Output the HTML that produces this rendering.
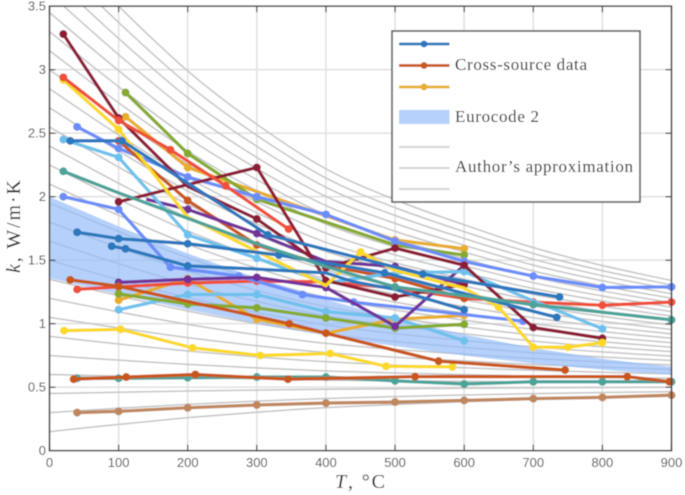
<!DOCTYPE html>
<html lang="en">
<head>
<meta charset="utf-8">
<title>Thermal conductivity chart</title>
<style>
html,body{margin:0;padding:0;background:#fff;}
body{width:685px;height:495px;overflow:hidden;}
svg{display:block;}
.tick{font-family:"Liberation Sans",sans-serif;font-size:13px;fill:#444;}
.serif{font-family:"Liberation Serif",serif;fill:#111;}
</style>
</head>
<body>
<svg id="chart" xmlns="http://www.w3.org/2000/svg" width="685" height="495" viewBox="0 0 685 495">
  <defs>
    <clipPath id="plot-clip"><rect x="49.5" y="6" width="622" height="444.7"></rect></clipPath>
    <filter id="soft" x="0" y="0" width="100%" height="100%"><feGaussianBlur stdDeviation="0.5"></feGaussianBlur></filter>
  </defs>
  <g id="root" filter="url(#soft)">
    <rect x="0" y="0" width="685" height="495" fill="#fff"></rect>
    <g id="grid"></g>
    <g id="gray" clip-path="url(#plot-clip)"></g>
    <g id="band" clip-path="url(#plot-clip)"></g>
    <g id="series"></g>
    <g id="axes"></g>
    <text class="serif" x="0" y="0" transform="translate(20,273) rotate(-90)" font-size="20" textLength="93" lengthAdjust="spacing"><tspan font-style="italic">k</tspan>, W/m·K</text>
    <text class="serif" x="335" y="488" font-size="20" textLength="50" lengthAdjust="spacing"><tspan font-style="italic">T</tspan>, °C</text>
    <g>
      <rect x="392" y="31" width="248" height="171" fill="#fff" stroke="#555" stroke-width="1.6"></rect>
      <g>
        <line x1="399" x2="449.5" y1="44" y2="44" stroke="#2b78bd" stroke-width="2.8"></line><circle cx="424" cy="44" r="3.4" fill="#2b78bd"></circle>
      </g>
      <g>
        <line x1="399" x2="449.5" y1="65.5" y2="65.5" stroke="#c9561a" stroke-width="2.8"></line><circle cx="424" cy="65.5" r="3.4" fill="#c9561a"></circle>
      </g>
      <g>
        <line x1="399" x2="449.5" y1="87" y2="87" stroke="#e8ad2a" stroke-width="2.8"></line><circle cx="424" cy="87" r="3.4" fill="#e8ad2a"></circle>
      </g>
      <text class="serif" x="455" y="70" font-size="17" textLength="132" lengthAdjust="spacing">Cross-source data</text>
      <rect x="399" y="110" width="50.5" height="14" fill="#b5d1fc"></rect>
      <text class="serif" x="455" y="122" font-size="17" textLength="84" lengthAdjust="spacing">Eurocode 2</text>
      <line x1="399" x2="449.5" y1="147" y2="147" stroke="#c8c8c8" stroke-width="1.4"></line>
      <line x1="399" x2="449.5" y1="168" y2="168" stroke="#c8c8c8" stroke-width="1.4"></line>
      <line x1="399" x2="449.5" y1="189" y2="189" stroke="#c8c8c8" stroke-width="1.4"></line>
      <text class="serif" x="455" y="172" font-size="17" textLength="178" lengthAdjust="spacing">Author’s approximation</text>
    </g>
  </g>
</svg>
<script>
// ---- tick labels ----
const xTicks = [0,100,200,300,400,500,600,700,800,900];
const yTicks = [0,0.5,1,1.5,2,2.5,3,3.5];
const yTickLabels = ['0','0.5','1','1.5','2','2.5','3','3.5'];

// ---- Eurocode 2 band ----
const bandTemps = [0,100,200,300,400,500,600,700,800,900];
const bandUpper = [2,1.766,1.553,1.361,1.191,1.042,0.915,0.809,0.724,0.661];
const bandLower = [1.36,1.23,1.111,1.003,0.907,0.823,0.749,0.687,0.637,0.598];

// ---- Author's approximation curves ----
const grayTemps = [0,100,200,300,400,500,600,700,800,900];
const grayCurves = [
 [0.15,0.207,0.26,0.303,0.339,0.364,0.385,0.403,0.418,0.43],
 [0.30,0.334,0.365,0.39,0.411,0.426,0.439,0.449,0.458,0.465],
 [0.45,0.46,0.47,0.477,0.484,0.488,0.492,0.495,0.498,0.50],
 [0.60,0.587,0.575,0.565,0.556,0.55,0.546,0.541,0.538,0.535],
 [0.75,0.713,0.68,0.652,0.628,0.612,0.599,0.587,0.578,0.57],
 [0.90,0.84,0.785,0.739,0.701,0.674,0.653,0.633,0.618,0.605],
 [1.05,0.967,0.89,0.826,0.773,0.736,0.707,0.679,0.658,0.64],
 [1.20,1.093,0.995,0.913,0.845,0.798,0.76,0.725,0.698,0.675],
 [1.35,1.22,1.10,1.001,0.918,0.86,0.814,0.771,0.738,0.71],
 [1.50,1.347,1.205,1.088,0.99,0.922,0.868,0.817,0.778,0.745],
 [1.65,1.473,1.31,1.175,1.062,0.984,0.921,0.863,0.818,0.78],
 [1.80,1.6,1.415,1.262,1.134,1.046,0.975,0.909,0.858,0.815],
 [1.95,1.726,1.52,1.349,1.207,1.108,1.028,0.955,0.898,0.85],
 [2.10,1.853,1.625,1.437,1.279,1.17,1.082,1.001,0.938,0.885],
 [2.25,1.98,1.73,1.524,1.351,1.232,1.135,1.047,0.978,0.92],
 [2.40,2.106,1.835,1.611,1.424,1.294,1.189,1.093,1.018,0.955],
 [2.55,2.233,1.94,1.698,1.496,1.356,1.243,1.139,1.058,0.99],
 [2.70,2.36,2.045,1.785,1.568,1.418,1.296,1.185,1.098,1.025],
 [2.85,2.486,2.15,1.873,1.64,1.48,1.35,1.231,1.138,1.06],
 [3.00,2.613,2.255,1.96,1.713,1.542,1.403,1.277,1.178,1.095],
 [3.15,2.739,2.36,2.047,1.785,1.604,1.457,1.323,1.218,1.13],
 [3.30,2.866,2.465,2.134,1.857,1.666,1.511,1.369,1.258,1.165],
 [3.45,2.993,2.57,2.221,1.93,1.728,1.564,1.415,1.298,1.20],
 [3.60,3.119,2.675,2.309,2.002,1.79,1.618,1.461,1.338,1.235],
 [3.75,3.246,2.78,2.396,2.074,1.852,1.671,1.507,1.378,1.27],
 [3.90,3.372,2.885,2.483,2.147,1.914,1.725,1.553,1.418,1.305],
 [4.05,3.5,2.99,2.57,2.219,1.976,1.779,1.599,1.458,1.34]
];

// ---- measured series: temperatures and conductivities ----
const goldHighT = [110,200,500,600];
const goldHighK = [2.63,2.23,1.66,1.59];
const greenHighT = [110,200,300,500,600];
const greenHighK = [2.82,2.34,1.98,1.62,1.54];
const periHighT = [40,100,200,300,400,500,600,700,800,900];
const periHighK = [2.55,2.38,2.155,2.0,1.86,1.65,1.49,1.375,1.285,1.29];
const goldLowT = [100,200,300,400,500,600];
const goldLowK = [1.185,1.355,1.035,0.925,1.035,1.065];
const redLowT = [40,100,200,300,400,500,600,700,800,900];
const redLowK = [1.27,1.29,1.32,1.335,1.33,1.28,1.2,1.17,1.145,1.17];
const yellowLowT = [21,103,207,305,406,487,583];
const yellowLowK = [0.945,0.955,0.81,0.75,0.765,0.665,0.66];
const lightLowT = [100,200,300,400,500,600];
const lightLowK = [1.11,1.23,1.23,1.095,1.045,0.865];
const greenLowT = [100,200,300,400,500,600];
const greenLowK = [1.235,1.155,1.125,1.045,0.965,0.995];
const periLowT = [20,100,175,274,366,440,685];
const periLowK = [2.0,1.9,1.445,1.375,1.23,1.17,1.02];
const purpleLowT = [100,200,300,400,500,600];
const purpleLowK = [1.325,1.35,1.365,1.285,0.98,1.46];
const orangeLowT = [30,100,347,400,563,746];
const orangeLowK = [1.345,1.295,1.0,0.925,0.705,0.635];
const orangeHighT = [100,200,300,400,500,600];
const orangeHighK = [2.44,1.97,1.62,1.46,1.355,1.2];
const purpleHighT = [140,200,300,400,500,600];
const purpleHighK = [1.98,1.9,1.71,1.49,1.45,1.31];
const lightHighT = [20,100,200,300,400,500,600,700,800];
const lightHighK = [2.45,2.31,1.7,1.515,1.32,1.4,1.41,1.18,0.96];
const redHighT = [20,100,175,255,346];
const redHighK = [2.94,2.6,2.37,2.085,1.745];
const darkRedAT = [20,100,200,300,400,500,600,700,800];
const darkRedAK = [3.28,2.62,2.08,1.825,1.44,1.595,1.46,0.97,0.885];
const darkRedBT = [100,300,400,500,600];
const darkRedBK = [1.96,2.23,1.34,1.21,1.31];
const yellowHighT = [20,100,200,300,400,450,500,600,650,700,750,800];
const yellowHighK = [2.92,2.53,1.84,1.57,1.3,1.565,1.42,1.28,1.13,0.815,0.815,0.85];
const blueAT = [30,105,316,540,738];
const blueAK = [2.44,2.44,1.7,1.39,1.21];
const blueBT = [40,100,200,332,485,734];
const blueBK = [1.72,1.67,1.63,1.54,1.4,1.05];
const blueCT = [90,110,200,300,400,440,500,600];
const blueCK = [1.61,1.59,1.455,1.43,1.4,1.33,1.27,1.11];
const tealHighT = [20,100,200,300,400,500,600,700,800,900];
const tealHighK = [2.2,2.03,1.83,1.63,1.45,1.29,1.22,1.15,1.09,1.03];
const tealLowT = [40,100,200,300,400,500,600,700,800,900];
const tealLowK = [0.57,0.57,0.575,0.58,0.58,0.55,0.525,0.543,0.543,0.543];
const orangeFlatT = [35,111,211,345,529,836,897];
const orangeFlatK = [0.563,0.58,0.6,0.563,0.583,0.583,0.543];
const tanT = [40,100,200,300,400,500,600,700,800,900];
const tanK = [0.3,0.31,0.338,0.36,0.375,0.383,0.396,0.41,0.42,0.437];

// ---- drawing order, colours; hide = vertex indices drawn without a marker ----
const seriesList = [
 {name:'gold-high',t:goldHighT,k:goldHighK,c:'#e8ad2a',hide:[]},
 {name:'green-high',t:greenHighT,k:greenHighK,c:'#86aa2e',hide:[]},
 {name:'periwinkle-high',t:periHighT,k:periHighK,c:'#6b8dfa',hide:[]},
 {name:'gold-low',t:goldLowT,k:goldLowK,c:'#e8ad2a',hide:[]},
 {name:'red-low',t:redLowT,k:redLowK,c:'#ef4f3b',hide:[4,5]},
 {name:'yellow-low',t:yellowLowT,k:yellowLowK,c:'#fbd927',hide:[]},
 {name:'light-blue-low',t:lightLowT,k:lightLowK,c:'#6ec1ec',hide:[]},
 {name:'green-low',t:greenLowT,k:greenLowK,c:'#86aa2e',hide:[]},
 {name:'periwinkle-low',t:periLowT,k:periLowK,c:'#6b8dfa',hide:[]},
 {name:'purple-low',t:purpleLowT,k:purpleLowK,c:'#72309a',hide:[]},
 {name:'orange-low',t:orangeLowT,k:orangeLowK,c:'#c9561a',hide:[]},
 {name:'orange-high',t:orangeHighT,k:orangeHighK,c:'#c9561a',hide:[3]},
 {name:'purple-high',t:purpleHighT,k:purpleHighK,c:'#72309a',hide:[0,3]},
 {name:'light-blue-high',t:lightHighT,k:lightHighK,c:'#6ec1ec',hide:[4,5,7]},
 {name:'dark-red-a',t:darkRedAT,k:darkRedAK,c:'#8d1b35',hide:[2]},
 {name:'dark-red-b',t:darkRedBT,k:darkRedBK,c:'#8d1b35',hide:[]},
 {name:'yellow-high',t:yellowHighT,k:yellowHighK,c:'#fbd927',hide:[2,3,4,6,7]},
 {name:'red-high',t:redHighT,k:redHighK,c:'#ef4f3b',hide:[]},
 {name:'blue-a',t:blueAT,k:blueAK,c:'#2b78bd',hide:[]},
 {name:'blue-b',t:blueBT,k:blueBK,c:'#2b78bd',hide:[]},
 {name:'blue-c',t:blueCT,k:blueCK,c:'#2b78bd',hide:[3,4,5,6]},
 {name:'teal-high',t:tealHighT,k:tealHighK,c:'#4ba39a',hide:[1,2,3,4,6,8]},
 {name:'teal-low',t:tealLowT,k:tealLowK,c:'#4ba39a',hide:[]},
 {name:'orange-flat',t:orangeFlatT,k:orangeFlatK,c:'#c9561a',hide:[]},
 {name:'tan',t:tanT,k:tanK,c:'#c0875f',hide:[]}
];

const NS = 'http://www.w3.org/2000/svg';
function xScale(t){ return 49.5 + t * (622 / 900); }
function yScale(k){ return 450.7 - k * 127; }
function make(tag, parent, attrs){
  const el = document.createElementNS(NS, tag);
  for (const key in attrs) el.setAttribute(key, attrs[key]);
  parent.appendChild(el);
  return el;
}
function smoothPath(px, py){
  let d = 'M' + px[0].toFixed(2) + ' ' + py[0].toFixed(2);
  for (let i = 0; i < px.length - 1; i++){
    const i0 = Math.max(i - 1, 0), i3 = Math.min(i + 2, px.length - 1);
    const c1x = px[i] + (px[i+1] - px[i0]) / 6, c1y = py[i] + (py[i+1] - py[i0]) / 6;
    const c2x = px[i+1] - (px[i3] - px[i]) / 6, c2y = py[i+1] - (py[i3] - py[i]) / 6;
    d += 'C' + c1x.toFixed(2) + ' ' + c1y.toFixed(2) + ' ' + c2x.toFixed(2) + ' ' + c2y.toFixed(2) + ' ' + px[i+1].toFixed(2) + ' ' + py[i+1].toFixed(2);
  }
  return d;
}

// grid
const gridG = document.getElementById('grid');
xTicks.forEach(function(t){
  const ln = make('line', gridG, {x1:xScale(t), x2:xScale(t), y1:yScale(3.5), y2:yScale(0), stroke:'#e2e2e2', 'stroke-width':1.6});
  
  
});
yTicks.forEach(function(v){
  const ln = make('line', gridG, {x1:xScale(0), x2:xScale(900), y1:yScale(v), y2:yScale(v), stroke:'#e2e2e2', 'stroke-width':1.6});
  
  
});

// gray curves
const grayG = document.getElementById('gray');
grayCurves.forEach(function(curve){
  const path = make('path', grayG, {d:smoothPath(grayTemps.map(xScale), curve.map(yScale)), fill:'none', stroke:'#c4c4c4', 'stroke-width':1.5});
  
  
});

// band
const bandG = document.getElementById('band');
const upperPts = bandTemps.map(function(t,i){ return xScale(t) + ',' + yScale(bandUpper[i]); });
const lowerPts = bandTemps.map(function(t,i){ return xScale(t) + ',' + yScale(bandLower[i]); }).reverse();
const bandPoly = make('polygon', bandG, {points:upperPts.concat(lowerPts).join(' '), fill:'rgb(150,190,250)', 'fill-opacity':0.7});



// series
const seriesG = document.getElementById('series');
seriesList.forEach(function(s){
  const g = make('g', seriesG, {});
  
  
  const pts = s.t.map(function(t,i){ return xScale(t).toFixed(2) + ',' + yScale(s.k[i]).toFixed(2); }).join(' ');
  make('polyline', g, {points:pts, fill:'none', stroke:s.c, 'stroke-width':3.3, 'stroke-linejoin':'round'});
  s.t.forEach(function(t,i){
    if (s.hide.indexOf(i) >= 0) return;
    const dot = make('circle', g, {cx:xScale(t), cy:yScale(s.k[i]), r:4, fill:s.c});
    
    
  });
});

// axes
const axesG = document.getElementById('axes');
const frame = make('rect', axesG, {x:xScale(0), y:yScale(3.5), width:xScale(900)-xScale(0), height:yScale(0)-yScale(3.5), fill:'none', stroke:'#454545', 'stroke-width':1.6});


xTicks.forEach(function(t){
  const tx = xScale(t);
  make('line', axesG, {x1:tx, x2:tx, y1:yScale(3.5), y2:yScale(3.5)+6, stroke:'#454545', 'stroke-width':1.3});
  make('line', axesG, {x1:tx, x2:tx, y1:yScale(0), y2:yScale(0)-6, stroke:'#454545', 'stroke-width':1.3});
  const label = make('text', axesG, {x:tx, y:467, 'text-anchor':'middle', class:'tick'});
  label.textContent = String(t);
  
  
});
yTicks.forEach(function(v,i){
  const ty = yScale(v);
  make('line', axesG, {x1:xScale(0), x2:xScale(0)+6, y1:ty, y2:ty, stroke:'#454545', 'stroke-width':1.3});
  make('line', axesG, {x1:xScale(900), x2:xScale(900)-6, y1:ty, y2:ty, stroke:'#454545', 'stroke-width':1.3});
  const label = make('text', axesG, {x:46, y:ty+4.5, 'text-anchor':'end', class:'tick'});
  label.textContent = yTickLabels[i];
  
  
});
</script>
</body>
</html>
